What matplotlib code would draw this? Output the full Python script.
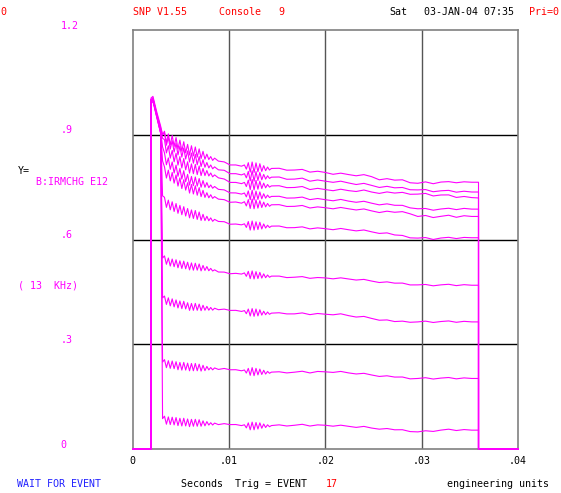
import numpy as np
import matplotlib.pyplot as plt

# time axis (seconds), shared by all traces
t = [0.0, 0.0019, 0.0019, 0.0021, 0.0025, 0.0029, 0.0031,
     0.0033, 0.0035, 0.0037, 0.0039, 0.0041, 0.0043, 0.0045, 0.0047, 0.0049, 0.0051,
     0.0053, 0.0055, 0.0057, 0.0059, 0.0061, 0.0063, 0.0065, 0.0067, 0.0069, 0.0071,
     0.0073, 0.0075, 0.0077, 0.0079, 0.0081, 0.0083, 0.0085,
     0.0089, 0.0095, 0.0101, 0.0107, 0.0113,
     0.0116, 0.0118, 0.0120, 0.0122, 0.0124, 0.0126, 0.0128, 0.0130, 0.0132, 0.0134,
     0.0136, 0.0138, 0.0140, 0.0142, 0.0144,
     0.0152, 0.0160, 0.0168, 0.0176, 0.0184, 0.0192, 0.0200, 0.0208, 0.0216, 0.0224,
     0.0232, 0.0240, 0.0248, 0.0256, 0.0264, 0.0272, 0.0280, 0.0288, 0.0296, 0.0304,
     0.0312, 0.0320, 0.0328, 0.0336, 0.0344, 0.0352,
     0.0359, 0.0359, 0.0400]

# ringing (relative units)
ripple = [0, 0, 0, 0, 0, 0, 0,
          1.0, -1.0, 0.9, -1.0, 1.0, -0.9, 1.0, -1.0, 0.9, -1.0, 1.0, -0.9, 0.9, -1.0,
          0.9, -0.9, 1.0, -0.8, 0.9, -0.8, 0.7, -0.6, 0.5, -0.4, 0.3, -0.3, 0.2,
          -0.1, 0.15, -0.1, 0.1, 0.0,
          0.3, -0.5, 0.8, -1.0, 1.0, -1.0, 0.9, -0.8, 0.8, -0.6, 0.5, -0.4, 0.3, -0.2, 0.1,
          0.2, -0.1, 0.0, 0.25, -0.2, 0.1, 0.0, -0.15, 0.2, 0.0, -0.1, 0.25, 0.0, -0.2,
          0.15, 0.0, 0.2, -0.1, 0.0, 0.2, -0.15, 0.1, 0.25, -0.1, 0.15, 0.0,
          0, 0, 0]

u1 = [0, 0, 1.005, 1.01, 0.965, 0.925, 0.900,
      .895, .892, .889, .886, .883, .880, .877, .874, .871, .868, .865, .862, .859, .857,
      .855, .853, .850, .848, .846, .844, .842, .839, .837, .835, .833, .831, .830,
      .826, .820, .815, .812, .810,
      .809, .809, .808, .808, .807, .807, .806, .806, .805, .804, .804, .803, .803, .802, .802,
      .801, .800, .799, .797, .796, .794, .792, .789, .787, .786, .784, .782, .780, .774,
      .772, .770, .768, .764, .761, .762, .762, .763, .762, .764, .763, .764,
      .764, 0, 0]
u2 = [0, 0, 1.0, 1.005, 0.96, 0.92, 0.900,
      .890, .885, .879, .874, .868, .864, .861, .857, .854, .851, .847, .844, .840, .837,
      .834, .832, .829, .826, .824, .821, .818, .816, .813, .811, .809, .807, .805,
      .801, .796, .790, .787, .785,
      .784, .784, .783, .783, .782, .782, .781, .781, .780, .780, .779, .779, .778, .778, .777,
      .776, .774, .773, .772, .770, .769, .767, .766, .764, .762, .759, .757, .755, .752,
      .750, .748, .746, .744, .742, .740, .739, .738, .737, .737, .736, .736,
      .736, 0, 0]
u3 = [0, 0, 0.995, 1.0, 0.955, 0.915, 0.890,
      .871, .863, .855, .848, .840, .836, .832, .828, .824, .820, .817, .813, .809, .805,
      .803, .802, .800, .798, .797, .795, .793, .792, .790, .788, .786, .784, .782,
      .778, .771, .765, .762, .760,
      .759, .759, .758, .758, .757, .757, .756, .756, .755, .755, .754, .754, .753, .753, .752,
      .751, .750, .749, .748, .746, .745, .743, .742, .741, .740, .739, .738, .736, .735,
      .734, .733, .732, .731, .730, .729, .727, .726, .724, .722, .721, .720,
      .719, 0, 0]
u4 = [0, 0, 1.0, 1.0, 0.955, 0.91, 0.865,
      .834, .828, .821, .815, .808, .803, .799, .795, .791, .787, .783, .778, .774, .770,
      .768, .767, .765, .764, .762, .761, .759, .758, .756, .754, .752, .751, .749,
      .745, .740, .735, .732, .730,
      .729, .729, .728, .728, .727, .727, .726, .726, .725, .725, .724, .724, .723, .723, .722,
      .721, .720, .719, .718, .717, .716, .714, .713, .712, .710, .708, .706, .704, .702,
      .700, .698, .695, .692, .688, .686, .686, .686, .686, .687, .687, .687,
      .687, 0, 0]
u5 = [0, 0, 0.99, 0.995, 0.95, 0.905, 0.825,
      .794, .790, .786, .782, .778, .774, .771, .767, .764, .760, .757, .754, .750, .747,
      .745, .743, .740, .738, .736, .734, .731, .729, .727, .725, .724, .722, .720,
      .717, .712, .708, .706, .704,
      .704, .703, .703, .703, .702, .702, .701, .701, .700, .700, .700, .699, .699, .698, .698,
      .697, .696, .695, .694, .693, .692, .691, .690, .689, .688, .686, .684, .682, .680,
      .679, .678, .677, .675, .666, .666, .665, .665, .666, .665, .666, .666,
      .666, 0, 0]
u6 = [0, 0, 1.0, 1.005, 0.955, 0.915, 0.725,
      .708, .705, .701, .698, .695, .692, .690, .688, .686, .684, .681, .679, .677, .675,
      .673, .672, .670, .668, .667, .665, .663, .662, .660, .659, .658, .656, .655,
      .653, .649, .645, .643, .642,
      .641, .641, .641, .640, .640, .640, .639, .639, .639, .638, .638, .638, .637, .637, .637,
      .636, .635, .634, .633, .633, .632, .631, .630, .629, .628, .626, .624, .622, .620,
      .617, .613, .609, .606, .604, .603, .602, .603, .603, .604, .604, .605,
      .605, 0, 0]
l1 = [0, 0, 1.0, 1.0, 0.955, 0.91, 0.547,
      .542, .540, .537, .535, .533, .532, .531, .530, .529, .528, .527, .526, .525, .524,
      .523, .522, .521, .521, .520, .519, .518, .518, .517, .515, .514, .513, .511,
      .508, .505, .503, .502, .501,
      .501, .500, .500, .499, .499, .498, .498, .497, .497, .496, .496, .495, .495, .494, .494,
      .493, .492, .492, .491, .491, .490, .490, .489, .488, .487, .485, .483, .481, .479,
      .477, .475, .473, .471, .470, .469, .469, .469, .469, .469, .469, .469,
      .469, 0, 0]
l2 = [0, 0, 1.0, 1.0, 0.955, 0.905, 0.433,
      .427, .425, .423, .421, .419, .417, .416, .415, .414, .413, .412, .411, .409, .408,
      .407, .407, .406, .406, .405, .405, .404, .404, .403, .402, .402, .401, .401,
      .400, .399, .398, .396, .394,
      .393, .393, .392, .392, .391, .391, .391, .390, .390, .390, .389, .389, .389, .388, .388,
      .388, .388, .387, .387, .387, .387, .386, .386, .385, .382, .379, .377, .374, .371,
      .368, .365, .364, .364, .364, .364, .364, .364, .364, .364, .364, .364,
      .364, 0, 0]
l3 = [0, 0, 0.995, 1.0, 0.95, 0.905, 0.249,
      .245, .244, .243, .242, .241, .240, .239, .238, .238, .237, .237, .236, .236, .235,
      .235, .234, .234, .233, .233, .232, .232, .231, .231, .231, .230, .230, .230,
      .229, .229, .228, .226, .224,
      .223, .223, .222, .222, .222, .221, .221, .221, .220, .220, .220, .219, .219, .219, .219,
      .219, .219, .220, .220, .220, .221, .221, .221, .220, .218, .216, .214, .212, .210,
      .208, .206, .204, .202, .202, .202, .202, .202, .202, .202, .202, .202,
      .202, 0, 0]
l4 = [0, 0, 1.0, 1.005, 0.955, 0.91, 0.087,
      .083, .082, .082, .081, .080, .079, .079, .078, .078, .077, .077, .076, .076, .075,
      .075, .075, .074, .074, .074, .074, .073, .073, .073, .073, .072, .072, .072,
      .071, .071, .071, .069, .067,
      .066, .066, .066, .066, .066, .066, .066, .066, .066, .066, .066, .066, .066, .066, .066,
      .067, .067, .068, .068, .068, .068, .068, .067, .066, .065, .063, .062, .060, .059,
      .057, .055, .053, .051, .049, .050, .052, .053, .054, .054, .054, .054,
      .054, 0, 0]

traces = [u1, u2, u3, u4, u5, u6, l1, l2, l3, l4]
ring_gain = [0.015, 0.015, 0.015, 0.014, 0.014, 0.013, 0.011, 0.011, 0.011, 0.011]

y_ticks = [0, 0.3, 0.6, 0.9, 1.2]
y_labels = ['0', '.3', '.6', '.9', '1.2']
x_ticks = [0, 0.01, 0.02, 0.03, 0.04]
x_labels = ['0', '.01', '.02', '.03', '.04']

MAG = '#ff00ff'
RED = '#ff0000'
BLUE = '#2020ff'
W, H = 561, 493

plt.rcParams['font.family'] = 'DejaVu Sans Mono'
plt.rcParams['font.size'] = 7.2

fig = plt.figure(figsize=(W / 100, H / 100), dpi=100)
ax = fig.add_axes([132.7 / W, 44 / H, 385.3 / W, 419 / H])

for base, g in zip(traces, ring_gain):
    y = np.array(base) + g * np.array(ripple)
    ax.plot(t, y, color=MAG, lw=0.8, clip_on=False, zorder=3)

ax.set_xlim(0, 0.04)
ax.set_ylim(0, 1.2)
ax.set_xticks([])
ax.set_yticks([])
for v in y_ticks[1:-1]:
    ax.axhline(v, color='black', lw=1, zorder=1)
for v in x_ticks[1:-1]:
    ax.axvline(v, color='#555555', lw=1, zorder=1)
for s in ax.spines.values():
    s.set_color('#808080')
    s.set_linewidth(1.2)

# axis labels drawn like the console does
for v, lab in zip(y_ticks, y_labels):
    ax.annotate(lab, xy=(0, v), xycoords=('axes fraction', 'data'),
                xytext=(-72, 4.5), textcoords='offset pixels',
                ha='left', va='center', color=MAG)
for v, lab in zip(x_ticks, x_labels):
    ax.annotate(lab, xy=(v, 0), xycoords=('data', 'axes fraction'),
                xytext=(0, -12.5), textcoords='offset pixels',
                ha='center', va='center', color='black')


def txt(x, y, s, c='black'):
    fig.text(x / W, 1 - y / H, s, color=c, ha='left', va='center')


txt(0, 12, '0', RED)
txt(133, 12, 'SNP V1.55', RED)
txt(219, 12, 'Console   9', RED)
txt(389, 12, 'Sat')
txt(424, 12, '03-JAN-04 07:35')
txt(529, 12, 'Pri=0', RED)

txt(18, 171, 'Y=')
txt(36, 182, 'B:IRMCHG E12', MAG)
txt(18, 286, '( 13  KHz)', MAG)

txt(17, 484, 'WAIT FOR EVENT', BLUE)
txt(181, 484, 'Seconds  Trig = EVENT')
txt(326, 484, '17', RED)
txt(447, 484, 'engineering units')

fig.savefig('out.png', dpi=100)
